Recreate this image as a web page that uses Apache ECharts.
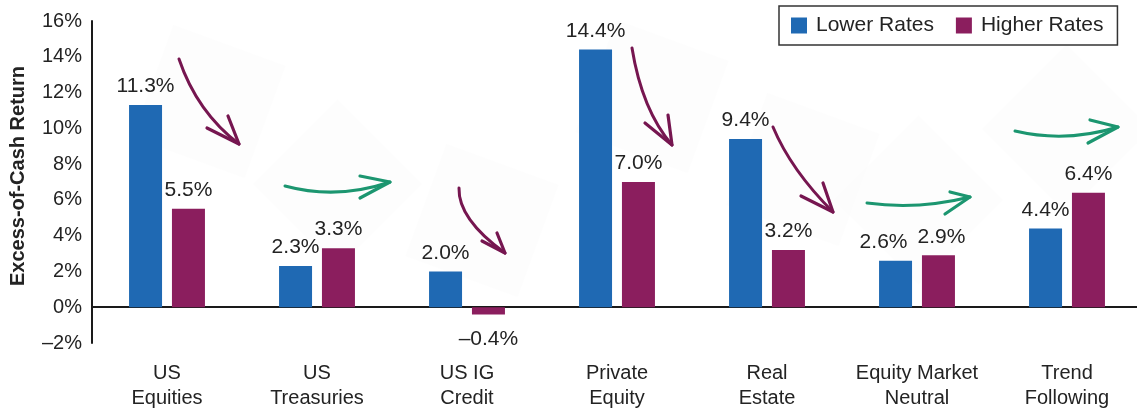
<!DOCTYPE html>
<html>
<head>
<meta charset="utf-8">
<script src="https://cdn.jsdelivr.net/npm/echarts@6/dist/echarts.min.js"></script>
<style>html,body{margin:0;padding:0;background:#fff}#c{width:1137px;height:411px}</style>
</head>
<body>
<div id="c"></div>
<script>
const categories = ['US\nEquities', 'US\nTreasuries', 'US IG\nCredit', 'Private\nEquity', 'Real\nEstate', 'Equity Market\nNeutral', 'Trend\nFollowing'];
const lowerRates = [11.3, 2.3, 2.0, 14.4, 9.4, 2.6, 4.4];
const higherRates = [5.5, 3.3, -0.4, 7.0, 3.2, 2.9, 6.4];
const yTicks = { min: -2, max: 16, interval: 2 };

const FONT = 'Liberation Sans';
const TXT = '#232323';
const BLUE = '#1f69b3';
const PURPLE = '#8b1e5e';
const ARROW_P = '#761650';
const ARROW_G = '#1c9670';

// small horizontal label nudges (style only) to avoid overlaps as in the original
const lowerLabelNudge = { 5: -12 };
const higherLabelNudge = { 5: 3 };

function pct(v) { return (v < 0 ? '\u2013' : '') + Math.abs(v).toFixed(1) + '%'; }
function toData(arr, nudge) {
  return arr.map((v, i) => {
    const item = { value: v };
    const lab = {};
    if (v < 0) { lab.position = 'bottom'; lab.distance = 14; }
    if (nudge[i]) { lab.offset = [nudge[i], 0]; }
    if (Object.keys(lab).length) item.label = lab;
    return item;
  });
}

// decorative hand-drawn arrows: [start, control, end, head1, head2, colour]
const arrows = [
  [[179,59],[197,112],[239,144],[207,128],[228,116],ARROW_P],
  [[285,186],[337,200],[390,182],[360,176],[360,198],ARROW_G],
  [[459,188],[458,219],[505,253],[482,241],[497,233],ARROW_P],
  [[632,48],[642,110],[672,145],[645,123],[668,115],ARROW_P],
  [[773,127],[791,170],[833,212],[801,196],[823,183],ARROW_P],
  [[867,203],[918,210],[970,197],[950,192],[945,214],ARROW_G],
  [[1015,131],[1066,143],[1118,127],[1090,120],[1088,143],ARROW_G]
];
const graphics = [];
arrows.forEach(a => {
  const [s, c, e, h1, h2, col] = a;
  const cx = (s[0] + e[0]) / 2, cy = (s[1] + e[1]) / 2;
  const down = col === ARROW_P;
  graphics.push({
    type: 'rect', z: 0, silent: true,
    x: cx, y: cy, originX: 0, originY: 0,
    rotation: down ? -0.35 : Math.PI / 4,
    shape: { x: -60, y: -60, width: 120, height: 120 },
    style: { fill: 'rgba(0,0,0,0.008)' }
  });
  graphics.push({
    type: 'bezierCurve', z: 10, silent: true,
    shape: { x1: s[0], y1: s[1], cpx1: c[0], cpy1: c[1], x2: e[0], y2: e[1] },
    style: { stroke: col, lineWidth: 3, fill: null, lineCap: 'round' }
  });
  graphics.push({
    type: 'polyline', z: 10, silent: true,
    shape: { points: [h1, e, h2] },
    style: { stroke: col, lineWidth: 3.2, fill: null, lineCap: 'round', lineJoin: 'round' }
  });
});

const chart = echarts.init(document.getElementById('c'), null, { renderer: 'canvas' });
chart.setOption({
  animation: false,
  textStyle: { fontFamily: FONT, color: TXT },
  legend: {
    left: 779, top: 6,
    padding: [9, 14, 9, 12],
    borderColor: '#333', borderWidth: 1.5,
    itemWidth: 16, itemHeight: 16, itemGap: 22,
    icon: 'rect',
    textStyle: { fontFamily: FONT, fontSize: 21, color: TXT, padding: [0, 0, 0, 4] },
    data: ['Lower Rates', 'Higher Rates']
  },
  grid: { left: 92, right: -5, top: 21, bottom: 68, containLabel: false, outerBoundsMode: 'none' },
  xAxis: {
    type: 'category',
    data: categories,
    axisLine: { onZero: true, lineStyle: { color: '#1a1a1a', width: 2 } },
    axisTick: { show: false },
    axisLabel: { margin: 18, fontFamily: FONT, fontSize: 20, color: TXT, lineHeight: 25, interval: 0 }
  },
  yAxis: {
    type: 'value',
    min: yTicks.min, max: yTicks.max, interval: yTicks.interval,
    name: 'Excess-of-Cash Return',
    nameLocation: 'middle', nameGap: 64,
    nameTextStyle: { fontFamily: FONT, fontSize: 20, fontWeight: 'bold', color: TXT, padding: [0, 0, 0, 12] },
    axisLine: { show: true, lineStyle: { color: '#1a1a1a', width: 2 } },
    axisTick: { show: false },
    splitLine: { show: false },
    axisLabel: { margin: 10, fontFamily: FONT, fontSize: 20, color: TXT, formatter: v => pct(v).replace('.0', '') }
  },
  series: [
    {
      name: 'Lower Rates', type: 'bar', data: toData(lowerRates, lowerLabelNudge),
      barWidth: 33, barGap: '30%',
      itemStyle: { color: BLUE },
      label: { show: true, position: 'top', distance: 8, formatter: p => pct(p.value), fontFamily: FONT, fontSize: 21, color: TXT }
    },
    {
      name: 'Higher Rates', type: 'bar', data: toData(higherRates, higherLabelNudge),
      barWidth: 33,
      itemStyle: { color: PURPLE },
      label: { show: true, position: 'top', distance: 8, formatter: p => pct(p.value), fontFamily: FONT, fontSize: 21, color: TXT }
    }
  ],
  graphic: graphics
});
</script>
</body>
</html>
